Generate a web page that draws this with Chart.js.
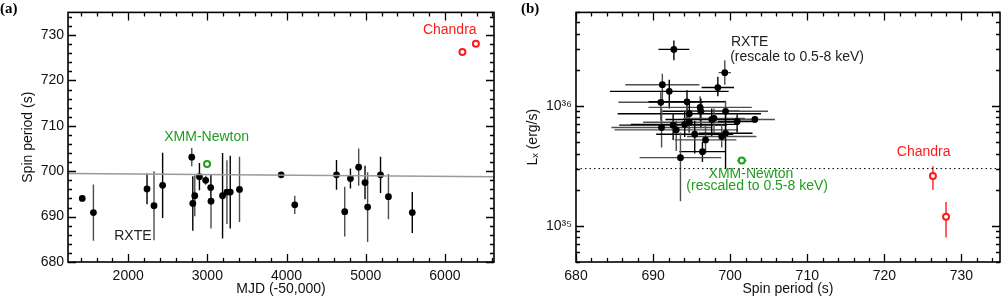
<!DOCTYPE html>
<html><head><meta charset="utf-8">
<script src="https://cdn.jsdelivr.net/npm/chart.js@4.4.0/dist/chart.umd.min.js"></script>
<style>
html,body{margin:0;padding:0;background:#fff;}
#wrap{position:relative;width:1006px;height:298px;overflow:hidden;background:#fff;}
canvas{position:absolute;top:0;}
#ca{left:0;} #cb{left:500px;}
</style></head><body>
<div id="wrap"><canvas id="ca" width="500" height="298"></canvas><canvas id="cb" width="506" height="298"></canvas></div>
<script>
// ---------- Panel (a): spin period vs MJD ----------
const rxteMJD       = [1420, 1561, 2238, 2326, 2435, 2803, 2816, 2841, 2900, 2979, 3042, 3046, 3192, 3247, 3289, 3406, 3932, 4104, 4631, 4735, 4807, 4911, 4991, 5024, 5187, 5287, 5588];
const rxtePeriod    = [694.0, 690.9, 696.1, 692.4, 696.9, 703.1, 692.9, 694.6, 698.8, 698.0, 696.4, 693.4, 694.6, 695.4, 695.4, 696.0, 699.2, 692.6, 699.2, 691.1, 698.4, 700.9, 697.5, 692.1, 699.2, 694.4, 690.9];
const rxtePeriodErr = [0, 6.2, 3.4, 7.6, 7.2, 2.0, 6.0, 4.5, 3.0, 1.0, 3.0, 6.0, 9.4, 7.0, 8.0, 7.2, 0, 2.0, 3.3, 5.5, 2.2, 4.1, 3.7, 7.7, 4.0, 5.0, 4.5];
const xmmMJD        = [2996];
const xmmPeriod     = [701.6];
const chandraMJD    = [6221, 6391];
const chandraPeriod = [726.3, 728.1];
const trendMJD      = [1240, 6620];
const trendPeriod   = [699.5, 698.8];
const mjdTicks      = [2000, 3000, 4000, 5000, 6000];
const periodTicksA  = [680, 690, 700, 710, 720, 730];

// ---------- Panel (b): luminosity vs spin period ----------
const bPeriod    = [692.7, 699.3, 698.4, 691.2, 692.1, 691.0, 694.4, 696.1, 696.2, 699.4, 694.7, 691.1, 692.6, 693.0, 694.1, 694.7, 695.4, 696.8, 696.4, 693.55, 697.6, 697.9, 699.4, 698.9, 700.9, 703.2];
const bPeriodErr = [2.0, 0.8, 2.1, 4.8, 7.7, 5.5, 5.0, 6.7, 5.0, 5.5, 9.3, 6.5, 7.0, 8.0, 7.0, 6.0, 5.0, 4.0, 3.0, 5.3, 6.0, 4.0, 3.5, 4.5, 2.5, 2.6];
const bLum       = [2.95e36, 1.89e36, 1.42e36, 1.50e36, 1.32e36, 1.07e36, 1.08e36, 0.97e36, 0.90e36, 0.90e36, 0.86e36, 0.66e36, 0.69e36, 0.63e36, 0.70e36, 0.73e36, 0.58e36, 0.52e36, 0.415e36, 0.37e36, 0.77e36, 0.786e36, 0.59e36, 0.555e36, 0.74e36, 0.77e36];
const bLumLo     = [2.4e36, 1.5e36, 1.2e36, 1.05e36, 0.95e36, 0.75e36, 0.7e36, 0.75e36, 0.65e36, 0.62e36, 0.6e36, 0.45e36, 0.52e36, 0.42e36, 0.55e36, 0.6e36, 0.4e36, 0.4e36, 0.34e36, 0.16e36, 0.55e36, 0.6e36, 0.3e36, 0.45e36, 0.6e36, 0.77e36];
const bLumHi     = [3.5e36, 2.4e36, 1.75e36, 1.85e36, 1.65e36, 1.3e36, 1.35e36, 1.2e36, 1.15e36, 1.1e36, 1.1e36, 0.95e36, 0.85e36, 0.75e36, 0.9e36, 0.88e36, 0.75e36, 0.68e36, 0.5e36, 0.6e36, 0.95e36, 0.95e36, 0.9e36, 0.7e36, 0.85e36, 0.77e36];
const xmmBPeriod    = [701.5];
const xmmBPeriodErr = [0.6];
const xmmBLum       = [3.5e35];
const chandraBPeriod = [726.3, 728.0];
const chandraBLum    = [2.6e35, 1.19e35];
const chandraBLumLo  = [2.0e35, 0.8e35];
const chandraBLumHi  = [3.14e35, 1.58e35];
const thresholdPeriod = [680, 735];
const thresholdLum    = [3e35, 3e35];
const periodTicksB = [680, 690, 700, 710, 720, 730];
const lumTicks     = [1e35, 1e36];

// ---------- styling ----------
const FONT = "'Liberation Sans', Arial, Helvetica, sans-serif";
const RED = '#ff1a1a', GREEN = '#1e9e1e';

const errPlugin = {
  id: 'errbars',
  beforeDatasetsDraw(chart) {
    const ctx = chart.ctx, xs = chart.scales.x, ys = chart.scales.y, a = chart.chartArea;
    ctx.save();
    ctx.beginPath(); ctx.rect(a.left, a.top, a.right - a.left, a.bottom - a.top); ctx.clip();
    chart.data.datasets.forEach(ds => {
      if (!ds.errX && !ds.errY) return;
      ds.data.forEach((p, i) => {
        const px = xs.getPixelForValue(p.x), py = ys.getPixelForValue(p.y);
        ctx.strokeStyle = ds.errColor ? ds.errColor : (i % 2 ? '#4d4d4d' : '#000');
        ctx.lineWidth = 1.4;
        if (ds.errY && ds.errY[i] && ds.errY[i][0] !== ds.errY[i][1]) {
          ctx.beginPath();
          ctx.moveTo(px, ys.getPixelForValue(ds.errY[i][0]));
          ctx.lineTo(px, ys.getPixelForValue(ds.errY[i][1]));
          ctx.stroke();
        }
        if (ds.errX && ds.errX[i] && ds.errX[i][0] !== ds.errX[i][1]) {
          ctx.beginPath();
          ctx.moveTo(xs.getPixelForValue(ds.errX[i][0]), py);
          ctx.lineTo(xs.getPixelForValue(ds.errX[i][1]), py);
          ctx.stroke();
        }
      });
    });
    ctx.restore();
  }
};

function minorValues(scale, cfg) {
  const out = [];
  if (cfg.log) {
    const e0 = Math.floor(Math.log10(scale.min)), e1 = Math.ceil(Math.log10(scale.max));
    for (let e = e0; e <= e1; e++) for (let m = 2; m <= 9; m++) {
      const v = m * Math.pow(10, e);
      if (v >= scale.min && v <= scale.max) out.push(v);
    }
  } else {
    const st = cfg.step;
    for (let v = Math.ceil(scale.min / st) * st; v <= scale.max + 1e-9; v += st) out.push(v);
  }
  return out;
}

const framePlugin = {
  id: 'frame',
  afterDraw(chart, args, opts) {
    const ctx = chart.ctx, a = chart.chartArea, xs = chart.scales.x, ys = chart.scales.y;
    ctx.save();
    ctx.strokeStyle = '#000';
    ctx.lineWidth = 1.3;
    const MAJ = 8, MIN = 4;
    const xMaj = xs.ticks.map(t => t.value), yMaj = ys.ticks.map(t => t.value);
    const xMin = minorValues(xs, opts.xMinor), yMin = minorValues(ys, opts.yMinor);
    ctx.beginPath();
    const isMaj = (arr, v) => arr.some(m => Math.abs(m - v) < Math.abs(v) * 1e-9 + 1e-9);
    xMaj.concat(xMin).forEach(v => {
      const len = isMaj(xMaj, v) ? MAJ : MIN;
      const px = Math.round(xs.getPixelForValue(v)) + 0.5;
      ctx.moveTo(px, a.bottom); ctx.lineTo(px, a.bottom - len);
      ctx.moveTo(px, a.top); ctx.lineTo(px, a.top + len);
    });
    yMaj.concat(yMin).forEach(v => {
      const len = isMaj(yMaj, v) ? MAJ : MIN;
      const py = Math.round(ys.getPixelForValue(v)) + 0.5;
      ctx.moveTo(a.left, py); ctx.lineTo(a.left + len, py);
      ctx.moveTo(a.right, py); ctx.lineTo(a.right - len, py);
    });
    ctx.stroke();
    ctx.lineWidth = 1.6;
    ctx.strokeRect(a.left, a.top, a.right - a.left, a.bottom - a.top);
    // annotations
    (opts.labels || []).forEach(l => {
      ctx.fillStyle = l.color;
      ctx.font = l.font || ('14px ' + FONT);
      ctx.textAlign = l.align || 'center';
      ctx.textBaseline = 'middle';
      const px = l.px !== undefined ? l.px : xs.getPixelForValue(l.x);
      const py = l.py !== undefined ? l.py : ys.getPixelForValue(l.y);
      ctx.fillText(l.text, px, py);
    });
    ctx.restore();
  }
};

const SUP = '⁰¹²³⁴⁵⁶⁷⁸⁹';
function supNum(n) { return String(n).split('').map(c => SUP[+c]).join(''); }

function axisCommon(min, max, ticksArr, size, isX, title, titlePad, tickPad, cb) {
  return {
    min, max,
    grid: { display: false, drawTicks: false },
    border: { display: false },
    afterBuildTicks: s => { s.ticks = ticksArr.map(v => ({ value: v })); },
    afterFit: s => { if (isX) s.height = size; else s.width = size; },
    ticks: { color: '#111', font: { family: FONT, size: 14 }, padding: tickPad, autoSkip: false, maxRotation: 0,
             callback: cb || (v => String(v)) },
    title: { display: true, text: title, color: '#111', font: { family: FONT, size: 14 }, padding: titlePad }
  };
}

Chart.defaults.animation = false;

// ----- Chart (a)
new Chart(document.getElementById('ca'), {
  type: 'scatter',
  data: {
    datasets: [
      { type: 'line', data: trendMJD.map((x, i) => ({ x, y: trendPeriod[i] })), borderColor: '#9a9a9a', borderWidth: 1.5, pointRadius: 0, fill: false },
      { data: rxteMJD.map((x, i) => ({ x, y: rxtePeriod[i] })), pointRadius: 3.4, backgroundColor: '#000', borderWidth: 0,
        errY: rxteMJD.map((x, i) => [rxtePeriod[i] - rxtePeriodErr[i], rxtePeriod[i] + rxtePeriodErr[i]]) },
      { data: xmmMJD.map((x, i) => ({ x, y: xmmPeriod[i] })), pointRadius: 3, backgroundColor: '#fff', borderColor: GREEN, borderWidth: 2 },
      { data: chandraMJD.map((x, i) => ({ x, y: chandraPeriod[i] })), pointRadius: 3, backgroundColor: '#fff', borderColor: RED, borderWidth: 2 }
    ]
  },
  options: {
    responsive: false, devicePixelRatio: 1,
    layout: { padding: { left: 0, right: 4, top: 5, bottom: 0 } },
    plugins: {
      legend: { display: false }, tooltip: { enabled: false },
      frame: {
        xMinor: { step: 200 }, yMinor: { step: 2 },
        labels: [
          { text: 'XMM-Newton', x: 2991, y: 707.5, color: GREEN },
          { text: 'Chandra', x: 6061, y: 731.1, color: RED },
          { text: 'RXTE', x: 2059, y: 685.7, color: '#222' },
          { text: '(a)', px: 0, py: 9, color: '#000', align: 'left', font: "bold 15px 'Liberation Serif', 'Times New Roman', serif" }
        ]
      }
    },
    scales: {
      x: Object.assign({ type: 'linear', position: 'bottom' }, axisCommon(1240, 6620, mjdTicks, 36, true, 'MJD (-50,000)', { top: 0, bottom: 0 }, 6)),
      y: Object.assign({ type: 'linear', position: 'left' }, axisCommon(680, 735, periodTicksA, 68, false, 'Spin period (s)', { top: 20, bottom: 0 }, 4))
    }
  },
  plugins: [errPlugin, framePlugin]
});

// ----- Chart (b)
new Chart(document.getElementById('cb'), {
  type: 'scatter',
  data: {
    datasets: [
      { type: 'line', data: thresholdPeriod.map((x, i) => ({ x, y: thresholdLum[i] })), borderColor: '#000', borderWidth: 1, borderDash: [1.5, 3], pointRadius: 0, fill: false },
      { data: bPeriod.map((x, i) => ({ x, y: bLum[i] })), pointRadius: 3.4, backgroundColor: '#000', borderWidth: 0,
        errX: bPeriod.map((x, i) => [x - bPeriodErr[i], x + bPeriodErr[i]]),
        errY: bPeriod.map((x, i) => [bLumLo[i], bLumHi[i]]) },
      { data: xmmBPeriod.map((x, i) => ({ x, y: xmmBLum[i] })), pointRadius: 3, backgroundColor: '#fff', borderColor: GREEN, borderWidth: 2,
        errColor: GREEN, errX: xmmBPeriod.map((x, i) => [x - xmmBPeriodErr[i], x + xmmBPeriodErr[i]]) },
      { data: chandraBPeriod.map((x, i) => ({ x, y: chandraBLum[i] })), pointRadius: 3, backgroundColor: '#fff', borderColor: RED, borderWidth: 2,
        errColor: RED, errY: chandraBPeriod.map((x, i) => [chandraBLumLo[i], chandraBLumHi[i]]) }
    ]
  },
  options: {
    responsive: false, devicePixelRatio: 1,
    layout: { padding: { left: 0, right: 2, top: 5, bottom: 0 } },
    plugins: {
      legend: { display: false }, tooltip: { enabled: false },
      frame: {
        xMinor: { step: 2 }, yMinor: { log: true },
        labels: [
          { text: 'RXTE', x: 700.1, y: 3.37e36, color: '#222', align: 'left' },
          { text: '(rescale to 0.5-8 keV)', x: 700.0, y: 2.55e36, color: '#222', align: 'left' },
          { text: 'XMM-Newton', x: 702.7, y: 2.69e35, color: GREEN },
          { text: '(rescaled to 0.5-8 keV)', x: 703.5, y: 2.13e35, color: GREEN },
          { text: 'Chandra', x: 725.1, y: 4.1e35, color: RED },
          { text: '(b)', px: 21, py: 9, color: '#000', align: 'left', font: "bold 15px 'Liberation Serif', 'Times New Roman', serif" }
        ]
      }
    },
    scales: {
      x: Object.assign({ type: 'linear', position: 'bottom' }, axisCommon(680, 735, periodTicksB, 36, true, 'Spin period (s)', { top: 0, bottom: 0 }, 6)),
      y: Object.assign({ type: 'logarithmic', position: 'left' }, axisCommon(5e34, 6e36, lumTicks, 76, false, 'Lₓ (erg/s)', { top: 25, bottom: 0 }, 4,
           v => '10' + supNum(Math.round(Math.log10(v)))))
    }
  },
  plugins: [errPlugin, framePlugin]
});
</script>
</body></html>
